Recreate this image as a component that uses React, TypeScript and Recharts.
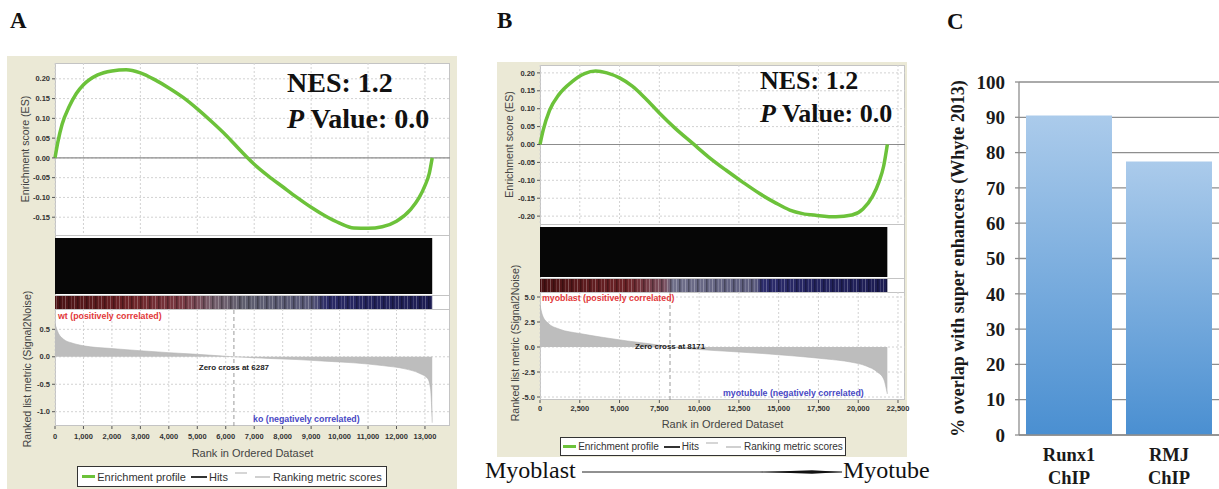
import React from 'react'
import {
  LineChart,
  Line,
  AreaChart,
  Area,
  ComposedChart,
  BarChart,
  Bar,
  XAxis,
  YAxis,
  CartesianGrid,
  ReferenceLine,
  ReferenceArea,
} from 'recharts'

const SERIF = '"Liberation Serif", "Times New Roman", serif'
const SANS = '"Liberation Sans", Arial, sans-serif'
const BEIGE = '#ebe9d6'
const GREEN = '#6cc23a'

// Panel A: wt vs ko
const aEsRank = [0, 100, 250, 500, 750, 1000, 1500, 2000, 2500, 3000, 3500, 4000, 4500, 5000, 5500, 6000, 6500, 7000, 7500, 8000, 8500, 9000, 9500, 10000, 10500, 11000, 11500, 12000, 12500, 12800, 13000, 13150, 13255]
const aEsScore = [0, 0.04, 0.085, 0.13, 0.163, 0.185, 0.21, 0.22, 0.223, 0.215, 0.198, 0.177, 0.153, 0.124, 0.092, 0.058, 0.02, -0.016, -0.046, -0.073, -0.1, -0.125, -0.147, -0.165, -0.177, -0.178, -0.174, -0.16, -0.13, -0.1, -0.07, -0.04, 0]
const aMetricRank = [0, 100, 300, 600, 1000, 2000, 3000, 4000, 5000, 6287, 7500, 8500, 9500, 10500, 11500, 12300, 12800, 13100, 13200, 13255]
const aMetricScore = [0.6, 0.45, 0.32, 0.25, 0.2, 0.15, 0.11, 0.075, 0.045, 0, -0.03, -0.05, -0.08, -0.11, -0.16, -0.22, -0.3, -0.4, -0.6, -1.2]
const aRankTicks = [0, 1000, 2000, 3000, 4000, 5000, 6000, 7000, 8000, 9000, 10000, 11000, 12000, 13000]
const aEsTicks = [0.2, 0.15, 0.1, 0.05, 0, -0.05, -0.1, -0.15]
const aMetricTicks = [0.5, 0, -0.5, -1]

// Panel B: myoblast vs myotubule
const bEsRank = [0, 200, 600, 1200, 2000, 2800, 3500, 4200, 5000, 5800, 6600, 7500, 8500, 9600, 10600, 11700, 12800, 13800, 14800, 15700, 16500, 17400, 18600, 19600, 20300, 20900, 21300, 21600, 21830]
const bEsScore = [0, 0.04, 0.095, 0.14, 0.175, 0.198, 0.205, 0.2, 0.186, 0.163, 0.13, 0.088, 0.045, 0.003, -0.035, -0.072, -0.107, -0.137, -0.163, -0.183, -0.193, -0.198, -0.202, -0.197, -0.18, -0.145, -0.105, -0.06, 0]
const bMetricRank = [0, 150, 500, 1200, 2500, 4000, 5500, 7000, 8171, 10000, 12000, 14000, 16000, 18000, 19500, 20500, 21200, 21600, 21830]
const bMetricScore = [4.2, 3.2, 2.4, 1.8, 1.35, 0.95, 0.6, 0.3, 0, -0.25, -0.45, -0.65, -0.9, -1.2, -1.5, -1.9, -2.5, -3.2, -4.7]
const bRankTicks = [0, 2500, 5000, 7500, 10000, 12500, 15000, 17500, 20000, 22500]
const bEsTicks = [0.2, 0.15, 0.1, 0.05, 0, -0.05, -0.1, -0.15, -0.2]
const bMetricTicks = [5, 2.5, 0, -2.5, -5]

// Panel C: overlap with super enhancers
const overlapCategories = ['Runx1 ChIP', 'RMJ ChIP']
const overlapValues = [90.5, 77.5]
const overlapTicks = [0, 10, 20, 30, 40, 50, 60, 70, 80, 90, 100]

type GseaProps = {
  id: string
  box: { x: number; y: number; w: number; h: number }
  plotL: number
  plotR: number
  esTop: number
  esBottom: number
  hitsBottom: number
  heatBottom: number
  rankBottom: number
  axisH: number
  tickGap: number
  xLabelOffset: number
  yw: number
  esLabelOffset: number
  xMax: number
  dataEnd: number
  zeroCross: number
  esRank: number[]
  esScore: number[]
  esTicks: number[]
  esDomain: [number, number]
  metricRank: number[]
  metricScore: number[]
  metricTicks: number[]
  metricDomain: [number, number]
  rankTicks: number[]
  heatStops: [number, string][]
}

const tickStyle = { fontSize: 7.5, fontWeight: 'bold' as const, fill: '#333', fontFamily: SANS }
const axisLabelStyle = { textAnchor: 'middle' as const, fontSize: 10.6, fill: '#444', fontFamily: SANS }
const EXTRA_R = 14

function GseaPanel(p: GseaProps) {
  const esData = p.esRank.map((rank, i) => ({ rank, es: p.esScore[i] }))
  const metricData = p.metricRank.map((rank, i) => ({ rank, metric: p.metricScore[i] }))
  const stripData = [{ rank: 0, band: 0 }, { rank: p.dataEnd, band: 1 }]
  const plotW = p.plotR - p.plotL
  const divider = (top: number) => (
    <div style={{ position: 'absolute', left: p.plotL, top, width: plotW, height: 1, background: '#c4c4c4' }} />
  )

  return (
    <>
      <div style={{ position: 'absolute', left: p.box.x, top: p.box.y, width: p.box.w, height: p.box.h, background: BEIGE }} />
      <div
        style={{
          position: 'absolute',
          left: p.plotL,
          top: p.esTop,
          width: plotW,
          height: p.rankBottom - p.esTop,
          background: '#fff',
          boxSizing: 'border-box',
          border: '1px solid #c4c4c4',
        }}
      />
      {divider(p.esBottom)}
      {divider(p.hitsBottom)}
      {divider(p.heatBottom)}

      {/* running enrichment score */}
      <div style={{ position: 'absolute', left: p.plotL - p.yw, top: p.esTop }}>
        <LineChart width={plotW + p.yw} height={p.esBottom - p.esTop} data={esData} margin={{ top: 0, right: 0, bottom: 0, left: 0 }}>
          <CartesianGrid stroke="#d2d2d2" strokeDasharray="2 2" verticalValues={p.rankTicks} horizontalValues={p.esTicks} />
          <XAxis type="number" dataKey="rank" domain={[0, p.xMax]} ticks={p.rankTicks} hide />
          <YAxis
            type="number"
            domain={p.esDomain}
            ticks={p.esTicks}
            interval={0}
            width={p.yw}
            axisLine={false}
            tickSize={3}
            tickMargin={2}
            tickLine={{ stroke: '#555' }}
            tick={tickStyle}
            tickFormatter={(v: number) => v.toFixed(2)}
            allowDataOverflow
            label={{ value: 'Enrichment score (ES)', angle: -90, position: 'insideLeft', offset: p.esLabelOffset, style: axisLabelStyle }}
          />
          <ReferenceLine y={0} stroke="#8c8c8c" strokeWidth={1.2} />
          <Line dataKey="es" type="monotone" stroke={GREEN} strokeWidth={3.5} dot={false} isAnimationActive={false} />
        </LineChart>
      </div>

      {/* hits */}
      <div style={{ position: 'absolute', left: p.plotL, top: p.esBottom }}>
        <ComposedChart width={plotW} height={p.hitsBottom - p.esBottom} data={stripData} margin={{ top: 3, right: 0, bottom: 1, left: 0 }}>
          <XAxis type="number" dataKey="rank" domain={[0, p.xMax]} hide />
          <YAxis type="number" domain={[0, 1]} hide />
          <Line dataKey="band" stroke="none" dot={false} isAnimationActive={false} />
          <ReferenceArea x1={0} x2={p.dataEnd} y1={0} y2={1} fill="#060606" fillOpacity={1} stroke="none" ifOverflow="visible" />
        </ComposedChart>
      </div>

      {/* ranked list heat strip */}
      <div style={{ position: 'absolute', left: p.plotL, top: p.hitsBottom }}>
        <ComposedChart width={plotW} height={p.heatBottom - p.hitsBottom} data={stripData} margin={{ top: 1, right: 0, bottom: 0, left: 0 }}>
          <defs>
            <linearGradient id={`heat-${p.id}`} x1="0" y1="0" x2="1" y2="0">
              {p.heatStops.map(([o, c], i) => (
                <stop key={i} offset={o} stopColor={c} />
              ))}
            </linearGradient>
            <pattern id={`stripe-${p.id}`} width="9" height="20" patternUnits="userSpaceOnUse">
              <rect x="1" y="0" width="1" height="20" fill="#fff" opacity="0.25" />
              <rect x="4" y="0" width="1.5" height="20" fill="#000" opacity="0.3" />
              <rect x="7" y="0" width="1" height="20" fill="#fff" opacity="0.14" />
            </pattern>
          </defs>
          <XAxis type="number" dataKey="rank" domain={[0, p.xMax]} hide />
          <YAxis type="number" domain={[0, 1]} hide />
          <Line dataKey="band" stroke="none" dot={false} isAnimationActive={false} />
          <ReferenceArea x1={0} x2={p.dataEnd} y1={0} y2={1} fill={`url(#heat-${p.id})`} fillOpacity={1} stroke="none" ifOverflow="visible" />
          <ReferenceArea x1={0} x2={p.dataEnd} y1={0} y2={1} fill={`url(#stripe-${p.id})`} fillOpacity={1} stroke="none" ifOverflow="visible" />
        </ComposedChart>
      </div>

      {/* ranked list metric */}
      <div style={{ position: 'absolute', left: p.plotL - p.yw, top: p.heatBottom }}>
        <AreaChart
          width={plotW + p.yw + EXTRA_R}
          height={p.rankBottom - p.heatBottom + p.axisH}
          data={metricData}
          margin={{ top: 0, right: EXTRA_R, bottom: 0, left: 0 }}
        >
          <CartesianGrid stroke="#d2d2d2" strokeDasharray="2 2" verticalValues={p.rankTicks} horizontalValues={p.metricTicks} />
          <XAxis
            type="number"
            dataKey="rank"
            domain={[0, p.xMax]}
            ticks={p.rankTicks}
            interval={0}
            height={p.axisH}
            axisLine={false}
            tickSize={3}
            tickMargin={p.tickGap}
            tickLine={{ stroke: '#555' }}
            tick={tickStyle}
            tickFormatter={(v: number) => v.toLocaleString('en-US')}
            label={{ value: 'Rank in Ordered Dataset', position: 'insideBottom', offset: p.xLabelOffset, style: { fontSize: 11, fill: '#444', fontFamily: SANS } }}
          />
          <YAxis
            type="number"
            domain={p.metricDomain}
            ticks={p.metricTicks}
            interval={0}
            width={p.yw}
            axisLine={false}
            tickSize={3}
            tickMargin={2}
            tickLine={{ stroke: '#555' }}
            tick={tickStyle}
            tickFormatter={(v: number) => v.toFixed(1)}
            allowDataOverflow
          />
          <Area
            dataKey="metric"
            type="monotone"
            baseValue={0}
            fill="#bdbdbd"
            fillOpacity={1}
            stroke="#b4b4b4"
            strokeWidth={0.6}
            isAnimationActive={false}
          />
          <ReferenceLine
            x={p.zeroCross}
            stroke="#9a9a9a"
            strokeDasharray="4 3"
            label={{ value: `Zero cross at ${p.zeroCross}`, position: 'center', style: { fontSize: 8, fill: '#222', fontFamily: SANS, fontWeight: 'bold' } }}
          />
        </AreaChart>
      </div>
    </>
  )
}

function GseaLegend({ left, top, width, height, fontSize }: { left: number; top: number; width: number; height: number; fontSize: number }) {
  const line = (color: string, w: number, h: number, extra: React.CSSProperties = {}) => (
    <span style={{ display: 'inline-block', width: w, height: h, background: color, ...extra }} />
  )
  return (
    <div
      style={{
        position: 'absolute',
        left,
        top,
        width,
        height,
        boxSizing: 'border-box',
        border: '1px solid #333',
        background: '#fff',
        display: 'flex',
        alignItems: 'center',
        justifyContent: 'center',
        fontFamily: SANS,
        fontSize,
        color: '#333',
        whiteSpace: 'nowrap',
      }}
    >
      {line(GREEN, 13, 2.5, { marginRight: 2 })}
      <span>Enrichment profile</span>
      {line('#333', 16, 2, { marginLeft: 5, marginRight: 2 })}
      <span>Hits</span>
      {line('#d6d6d6', 12, 1.5, { marginLeft: 7, marginTop: -7 })}
      {line('#d0d0d0', 15, 2, { marginLeft: 8, marginRight: 3 })}
      <span>Ranking metric scores</span>
    </div>
  )
}

const CategoryTick = (props: any) => {
  const { x, y, payload } = props
  const parts = String(payload.value).split(' ')
  return (
    <text x={x} y={y} textAnchor="middle" fontFamily={SERIF} fontWeight="bold" fontSize={18.5} fill="#1a1a1a">
      <tspan x={x} dy={26}>
        {parts[0]}
      </tspan>
      <tspan x={x} dy={23}>
        {parts[1]}
      </tspan>
    </text>
  )
}

export default function App() {
  const overlapData = overlapCategories.map((name, i) => ({ name, value: overlapValues[i] }))

  return (
    <div style={{ position: 'absolute', left: 0, top: 0, width: 1219, height: 489, background: '#fff', overflow: 'hidden' }}>
      <GseaPanel
        id="a"
        box={{ x: 7, y: 56, w: 450, h: 433 }}
        plotL={55}
        plotR={450}
        esTop={63}
        esBottom={235}
        hitsBottom={295}
        heatBottom={309}
        rankBottom={426}
        axisH={34}
        tickGap={5}
        xLabelOffset={3}
        yw={48}
        esLabelOffset={18}
        xMax={13880}
        dataEnd={13255}
        zeroCross={6287}
        esRank={aEsRank}
        esScore={aEsScore}
        esTicks={aEsTicks}
        esDomain={[-0.195, 0.24]}
        metricRank={aMetricRank}
        metricScore={aMetricScore}
        metricTicks={aMetricTicks}
        metricDomain={[-1.26, 0.87]}
        rankTicks={aRankTicks}
        heatStops={[
          [0, '#4a1214'],
          [0.2, '#6e2428'],
          [0.34, '#7a3a44'],
          [0.42, '#76606e'],
          [0.5, '#5e5e6e'],
          [0.68, '#5a5a7a'],
          [0.72, '#2a2a66'],
          [1, '#1c1c52'],
        ]}
      />
      <GseaLegend left={77} top={466} width={310} height={21} fontSize={11} />

      <GseaPanel
        id="b"
        box={{ x: 497, y: 62, w: 410, h: 395 }}
        plotL={540}
        plotR={905}
        esTop={65}
        esBottom={224}
        hitsBottom={278}
        heatBottom={292}
        rankBottom={400}
        axisH={30}
        tickGap={3}
        xLabelOffset={2}
        yw={43}
        esLabelOffset={12}
        xMax={22940}
        dataEnd={21830}
        zeroCross={8171}
        esRank={bEsRank}
        esScore={bEsScore}
        esTicks={bEsTicks}
        esDomain={[-0.222, 0.222]}
        metricRank={bMetricRank}
        metricScore={bMetricScore}
        metricTicks={bMetricTicks}
        metricDomain={[-5.3, 5.5]}
        rankTicks={bRankTicks}
        heatStops={[
          [0, '#4a1214'],
          [0.25, '#6e2428'],
          [0.36, '#7a5060'],
          [0.38, '#70708a'],
          [0.62, '#5e5e80'],
          [0.64, '#2c2c6c'],
          [1, '#1c1c52'],
        ]}
      />
      <GseaLegend left={560} top={437} width={286} height={19} fontSize={10} />

      {/* panel C */}
      <div style={{ position: 'absolute', left: 930, top: 70 }}>
        <BarChart width={289} height={419} data={overlapData} margin={{ top: 12, right: 0, bottom: 0, left: 0 }} barSize={86}>
          <defs>
            <linearGradient id="barBlue" x1="0" y1="0" x2="0" y2="1">
              <stop offset="0" stopColor="#abcbeb" />
              <stop offset="1" stopColor="#4a8fd1" />
            </linearGradient>
          </defs>
          <CartesianGrid vertical={false} stroke="#8e8e8e" strokeWidth={1.3} horizontalValues={overlapTicks} />
          <XAxis
            dataKey="name"
            height={54}
            interval={0}
            axisLine={{ stroke: '#8e8e8e', strokeWidth: 1.3 }}
            tickLine={false}
            tickSize={0}
            tickMargin={0}
            tick={CategoryTick}
          />
          <YAxis
            type="number"
            domain={[0, 100]}
            ticks={overlapTicks}
            interval={0}
            width={89}
            axisLine={{ stroke: '#8e8e8e', strokeWidth: 1.3 }}
            tickLine={{ stroke: '#8e8e8e', strokeWidth: 1.3 }}
            tickSize={4}
            tickMargin={10}
            tick={{ fontFamily: SERIF, fontWeight: 'bold', fontSize: 19, fill: '#1a1a1a' }}
            label={{
              value: '% overlap with super enhancers (Whyte 2013)',
              angle: -90,
              position: 'insideLeft',
              offset: 28,
              style: { textAnchor: 'middle', fontFamily: SERIF, fontWeight: 'bold', fontSize: 18, fill: '#1a1a1a' },
            }}
          />
          <Bar dataKey="value" fill="url(#barBlue)" isAnimationActive={false} />
        </BarChart>
      </div>

      {/* letters, statistics, annotations */}
      <svg width={1219} height={489} style={{ position: 'absolute', left: 0, top: 0, pointerEvents: 'none' }}>
        <g fontFamily={SERIF} fontWeight="bold" fontSize={23} fill="#111">
          <text x={10} y={28}>A</text>
          <text x={497} y={28}>B</text>
          <text x={947} y={29}>C</text>
        </g>
        <g fontFamily={SANS} fontSize={10.6} fill="#444" textAnchor="middle" dominantBaseline="central">
          <text transform="translate(27 369) rotate(-90)">Ranked list metric (Signal2Noise)</text>
          <text transform="translate(515 343) rotate(-90)">Ranked list metric (Signal2Noise)</text>
        </g>
        <g fontFamily={SERIF} fontWeight="bold" fill="#111">
          <text x={287} y={92} fontSize={28}>NES: 1.2</text>
          <text x={287} y={128} fontSize={28}>
            <tspan fontStyle="italic">P</tspan> Value: 0.0
          </text>
          <text x={760} y={89} fontSize={26}>NES: 1.2</text>
          <text x={760} y={122} fontSize={26}>
            <tspan fontStyle="italic">P</tspan> Value: 0.0
          </text>
        </g>
        <g fontFamily={SANS} fontWeight="bold" fontSize={8.8} dominantBaseline="central">
          <text x={58} y={316} fill="#e2383a">wt (positively correlated)</text>
          <text x={253} y={419} fill="#4848c4">ko (negatively correlated)</text>
          <text x={542} y={298} fill="#e2383a">myoblast (positively correlated)</text>
          <text x={723} y={393} fill="#4848c4">myotubule (negatively correlated)</text>
        </g>
        <g fontFamily={SERIF} fontSize={24} fill="#111">
          <text x={485} y={478}>Myoblast</text>
          <text x={843} y={478}>Myotube</text>
        </g>
        <line x1={582} y1={472} x2={842} y2={472} stroke="#222" strokeWidth={1} />
        <polygon points="760,472 812,470.2 843,472 812,473.8" fill="#111" />
      </svg>
    </div>
  )
}
